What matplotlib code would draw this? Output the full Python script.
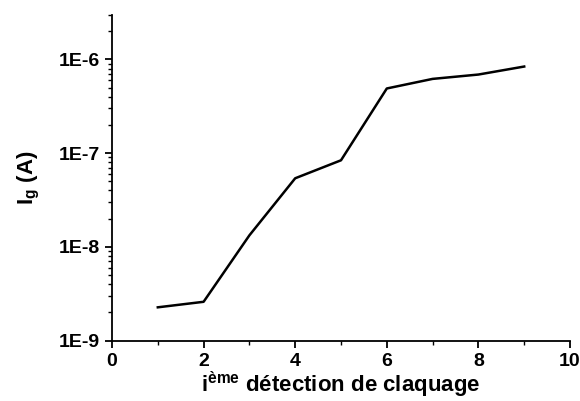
import matplotlib
matplotlib.use("Agg")
import matplotlib.pyplot as plt
from matplotlib.ticker import FuncFormatter, LogLocator, MultipleLocator
import numpy as np

plt.rcParams['font.family'] = ['Liberation Sans', 'DejaVu Sans']
plt.rcParams['font.weight'] = 'bold'
plt.rcParams['mathtext.fontset'] = 'custom'
plt.rcParams['mathtext.rm'] = 'Liberation Sans:bold'
plt.rcParams['mathtext.bf'] = 'Liberation Sans:bold'
plt.rcParams['mathtext.it'] = 'Liberation Sans:bold'

x = [1, 2, 3, 4, 5, 6, 7, 8, 9]
ig = [2.27e-9, 2.6e-9, 1.33e-8, 5.4e-8, 8.4e-8, 4.9e-7, 6.2e-7, 6.9e-7, 8.4e-7]
yticks = [1e-9, 1e-8, 1e-7, 1e-6]
ytick_labels = ['1E-9', '1E-8', '1E-7', '1E-6']

fig = plt.figure(figsize=(5.8, 4.01), dpi=100)
ax = fig.add_axes([112/580, 1 - 340.7/401, (570-112)/580, (340.7-14.7)/401])
ax.plot(x, ig, color='black', lw=1.8)
ax.set_yscale('log')
ax.set_xlim(0, 10)
ax.set_ylim(1e-9, 3e-6)
ax.set_yticks(yticks)
ax.set_yticklabels(ytick_labels)
ax.yaxis.set_minor_locator(LogLocator(base=10, subs=np.arange(2, 10)))
ax.yaxis.set_minor_formatter(FuncFormatter(lambda v, p: ''))
ax.xaxis.set_major_locator(MultipleLocator(2))
ax.xaxis.set_minor_locator(MultipleLocator(1))
for s in ['top', 'right']:
    ax.spines[s].set_visible(False)
for s in ['left', 'bottom']:
    ax.spines[s].set_linewidth(1.3)
ax.tick_params(which='major', direction='out', length=5, width=1.3, labelsize=14, pad=4)
ax.tick_params(which='minor', direction='out', length=3, width=1.0)
for lab in ax.get_xticklabels() + ax.get_yticklabels():
    lab.set_fontweight('bold')
ax.set_xlabel(r'i$^{\mathrm{ème}}$ détection de claquage', fontsize=16, fontweight='bold', labelpad=0)
ax.set_ylabel(r'I$_{\mathrm{g}}$ (A)', fontsize=16, fontweight='bold', labelpad=12)
fig.savefig('out.png', dpi=100)
